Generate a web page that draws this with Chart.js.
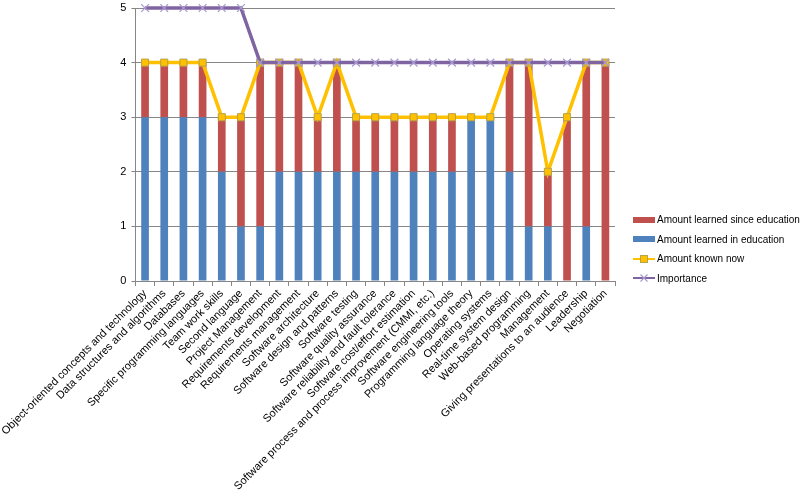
<!DOCTYPE html>
<html>
<head>
<meta charset="utf-8">
<script src="https://cdn.jsdelivr.net/npm/chart.js@4.4.0/dist/chart.umd.min.js"></script>
<style>
  html, body { margin: 0; padding: 0; background: #fff; }
  #wrap { position: relative; width: 803px; height: 497px; }
  #legend { position: absolute; left: 633px; top: 210px; font-family: "Liberation Sans", Arial, sans-serif; font-size: 10px; color: #000; }
  .item { height: 19.5px; display: flex; align-items: center; white-space: nowrap; }
  .sw { width: 22px; height: 12px; margin-right: 2px; position: relative; flex: none; }
</style>
</head>
<body>
<div id="wrap">
  <canvas id="c" width="803" height="497"></canvas>
  <div id="legend"></div>
</div>
<script>
const categories = [
  "Object-oriented concepts and technology",
  "Data structures and algorithms",
  "Databases",
  "Specific programming languages",
  "Team work skills",
  "Second language",
  "Project Management",
  "Requirements development",
  "Requirements management",
  "Software architecture",
  "Software design and patterns",
  "Software testing",
  "Software quality assurance",
  "Software reliability and fault tolerance",
  "Software cost/effort estimation",
  "Software process and process improvement (CMMI, etc.)",
  "Software engineering tools",
  "Programming language theory",
  "Operating systems",
  "Real-time system design",
  "Web-based programming",
  "Management",
  "Giving presentations to an audience",
  "Leadership",
  "Negotiation"
];
const learnedInEducation    = [3,3,3,3,2,1,1,2,2,2,2,2,2,2,2,2,2,3,3,2,1,1,0,1,0];
const learnedSinceEducation = [1,1,1,1,1,2,3,2,2,1,2,1,1,1,1,1,1,0,0,2,3,1,3,3,4];
const knownNow              = [4,4,4,4,3,3,4,4,4,3,4,3,3,3,3,3,3,3,3,4,4,2,3,4,4];
const importance            = [5,5,5,5,5,5,4,4,4,4,4,4,4,4,4,4,4,4,4,4,4,4,4,4,4];
const yTicks = [0,1,2,3,4,5];
const seriesNames = ["Amount learned since education","Amount learned in education","Amount known now","Importance"];

const RED = "#C0504D", BLUE = "#4F81BD", YEL = "#FFC000", PUR = "#8064A2";
const FONT = "'Liberation Sans', Arial, sans-serif";

new Chart(document.getElementById("c"), {
  data: {
    labels: categories,
    datasets: [
      { type: "line", label: seriesNames[3], data: importance, stack: "imp", order: 0, clip: false,
        borderColor: PUR, borderWidth: 3.5, pointStyle: "crossRot", pointRadius: 5.5,
        pointBorderColor: "#A99BD0", pointBorderWidth: 1.3, tension: 0 },
      { type: "line", label: seriesNames[2], data: knownNow, stack: "known", order: 1, clip: false,
        borderColor: YEL, borderWidth: 3.5, pointStyle: "rect", pointRadius: 5,
        pointBackgroundColor: YEL, pointBorderColor: "#B6A34A", pointBorderWidth: 1, tension: 0 },
      { type: "bar", label: seriesNames[1], data: learnedInEducation, stack: "bars", order: 2,
        backgroundColor: BLUE, borderWidth: 0, barPercentage: 0.4, categoryPercentage: 1 },
      { type: "bar", label: seriesNames[0], data: learnedSinceEducation, stack: "bars", order: 3,
        backgroundColor: RED, borderWidth: 0, barPercentage: 0.4, categoryPercentage: 1 }
    ]
  },
  options: {
    responsive: false,
    animation: false,
    layout: { padding: { top: 8, right: 188, bottom: 0, left: 0 } },
    plugins: { legend: { display: false }, tooltip: { enabled: false } },
    scales: {
      x: {
        stacked: true,
        offset: true,
        grid: { display: true, drawOnChartArea: false, drawTicks: true, tickLength: 5, color: "#868686", offset: true },
        border: { color: "#868686" },
        ticks: { autoSkip: false, minRotation: 45, maxRotation: 45, color: "#000", font: { family: FONT, size: 11 }, padding: 1 },
        afterFit: s => { s.height = 216; }
      },
      y: {
        stacked: true,
        min: 0, max: 5,
        afterBuildTicks: s => { s.ticks = yTicks.map(v => ({ value: v })); },
        grid: { color: "#868686", tickLength: 4 },
        border: { color: "#868686" },
        ticks: { color: "#000", font: { family: FONT, size: 11 }, padding: 5 },
        afterFit: s => { s.width = 133; s.paddingTop = 0; s.paddingBottom = 0; }
      }
    }
  }
});

// HTML legend
const leg = document.getElementById("legend");
function addItem(name, kind) {
  const d = document.createElement("div"); d.className = "item";
  const sw = document.createElement("span"); sw.className = "sw";
  if (kind === "red" || kind === "blue") {
    sw.innerHTML = `<span style="position:absolute;left:0;top:3px;width:22px;height:6px;background:${kind==='red'?RED:BLUE}"></span>`;
  } else if (kind === "known") {
    sw.innerHTML = `<svg width="22" height="12"><line x1="0" y1="6" x2="22" y2="6" stroke="${YEL}" stroke-width="2"/><rect x="7.5" y="2.5" width="7" height="7" fill="${YEL}" stroke="#B6A34A" stroke-width="1"/></svg>`;
  } else {
    sw.innerHTML = `<svg width="22" height="12"><line x1="0" y1="6" x2="22" y2="6" stroke="${PUR}" stroke-width="2"/><path d="M7.5 2.5 L14.5 9.5 M14.5 2.5 L7.5 9.5" stroke="#A99BD0" stroke-width="1.2"/></svg>`;
  }
  const t = document.createElement("span"); t.textContent = name;
  d.appendChild(sw); d.appendChild(t); leg.appendChild(d);
}
addItem(seriesNames[0], "red");
addItem(seriesNames[1], "blue");
addItem(seriesNames[2], "known");
addItem(seriesNames[3], "imp");
</script>
</body>
</html>
